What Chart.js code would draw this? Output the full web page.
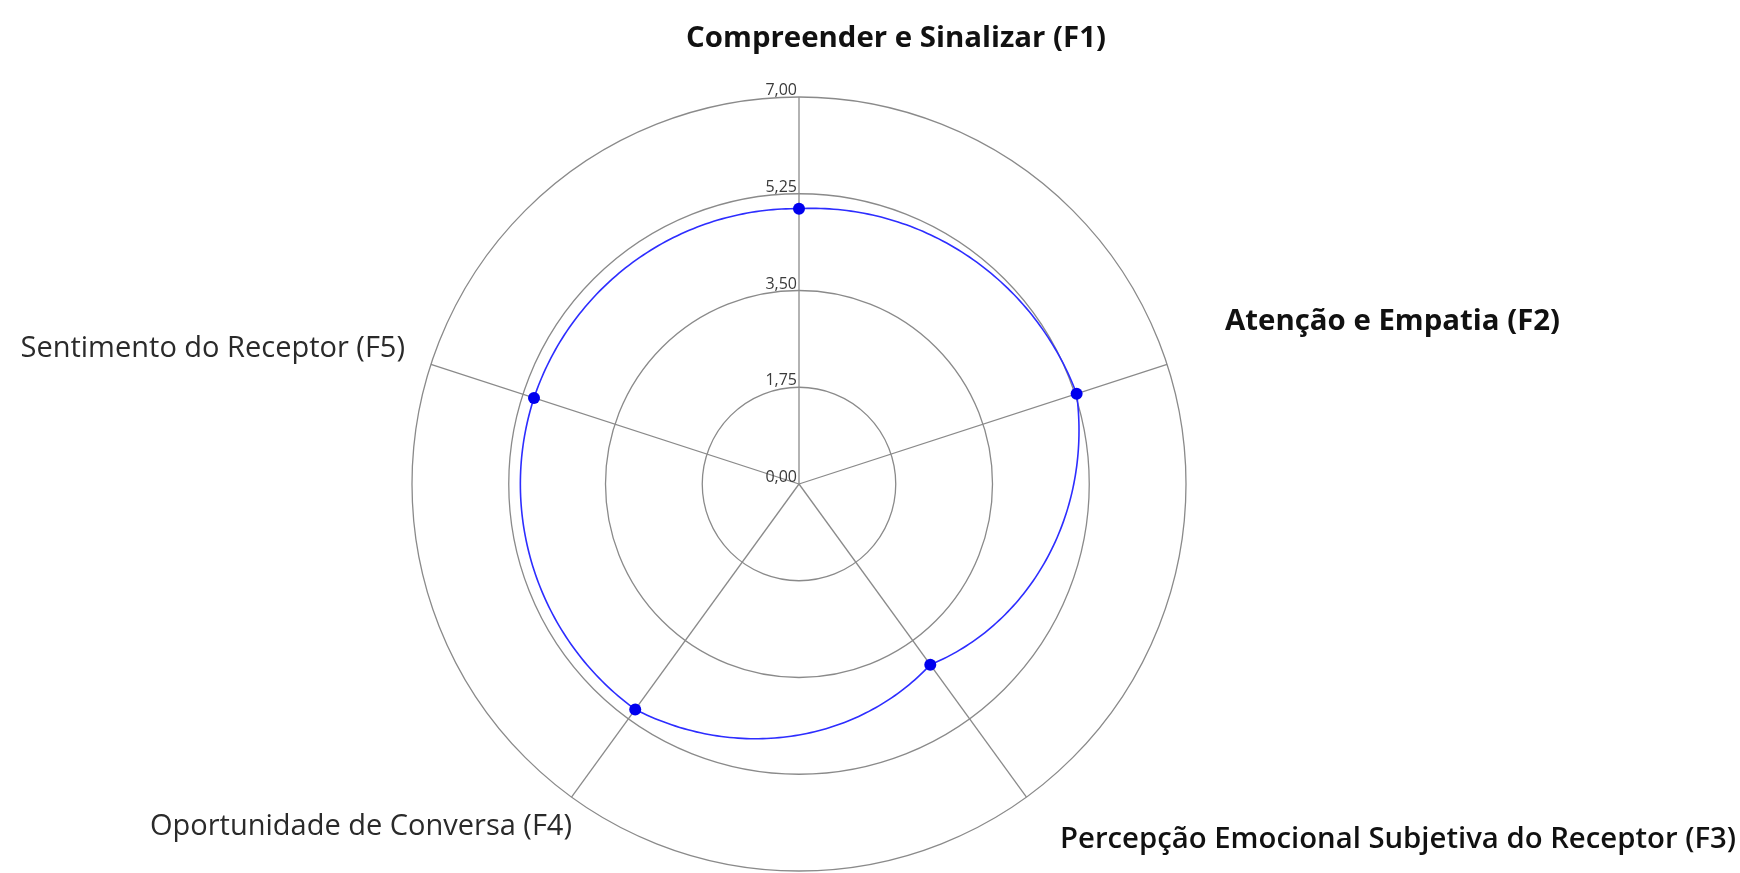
<!DOCTYPE html>
<html>
<head>
<meta charset="utf-8">
<script src="https://cdn.jsdelivr.net/npm/chart.js@4.4.1/dist/chart.umd.min.js"></script>
<style>
  html, body { margin: 0; padding: 0; background: #ffffff; }
  #c { display: block; }
</style>
</head>
<body>
<canvas id="c" width="1740" height="873"></canvas>
<script>
// ---- data ----
const categories = [
  'Compreender e Sinalizar (F1)',
  'Atenção e Empatia (F2)',
  'Percepção Emocional Subjetiva do Receptor (F3)',
  'Oportunidade de Conversa (F4)',
  'Sentimento do Receptor (F5)'
];
const seriesValues = [4.98, 5.28, 4.04, 5.04, 5.04];
const tickLabels = ['0,00', '1,75', '3,50', '5,25', '7,00'];
const scaleMin = 0;
const scaleMax = 7;
const scaleStep = 1.75;

// ---- label styling (offsets relative to scale centre) ----
const labelStyle = [
  { dx: 97,   dy: -437, align: 'center', weight: '700', size: 29.4, color: '#111111' },
  { dx: 426,  dy: -154, align: 'left',   weight: '700', size: 29.4, color: '#111111' },
  { dx: 261,  dy: 364,  align: 'left',   weight: '600', size: 29.3, color: '#111111' },
  { dx: -227, dy: 351,  align: 'right',  weight: '400', size: 29,   color: '#2a2a2a' },
  { dx: -394, dy: -127, align: 'right',  weight: '400', size: 29,   color: '#2a2a2a' }
];

// series line drawn in polar coordinates (radius interpolated along the angle), via the radial scale
const polarLinePlugin = {
  id: 'polarLine',
  beforeDatasetsDraw(chart) {
    const s = chart.scales.r;
    const ctx = chart.ctx;
    const vals = chart.data.datasets[0].data;
    const n = vals.length;
    const steps = 80;
    ctx.save();
    ctx.beginPath();
    for (let i = 0; i < n; i++) {
      const v0 = vals[i], v1 = vals[(i + 1) % n];
      for (let k = 0; k <= steps; k++) {
        const t = k / steps;
        const d = s.getDistanceFromCenterForValue(v0 + (v1 - v0) * t);
        const p = s.getPointPosition(i + t, d);
        if (i === 0 && k === 0) ctx.moveTo(p.x, p.y); else ctx.lineTo(p.x, p.y);
      }
    }
    ctx.closePath();
    ctx.strokeStyle = 'rgb(45,45,255)';
    ctx.lineWidth = 1.6;
    ctx.lineJoin = 'round';
    ctx.stroke();
    ctx.restore();
  }
};

const labelPlugin = {
  id: 'labelPlugin',
  afterDraw(chart) {
    const s = chart.scales.r;
    const ctx = chart.ctx;
    ctx.save();
    categories.forEach((txt, i) => {
      const st = labelStyle[i];
      ctx.font = st.weight + ' ' + st.size + 'px "Open Sans"';
      ctx.fillStyle = st.color;
      ctx.textAlign = st.align;
      ctx.textBaseline = 'alphabetic';
      ctx.fillText(txt, s.xCenter + st.dx, s.yCenter + st.dy);
    });
    ctx.font = '16px "Open Sans"';
    ctx.fillStyle = '#3a3a3a';
    ctx.textAlign = 'right';
    ctx.textBaseline = 'alphabetic';
    s.ticks.forEach((t, i) => {
      const r = s.getDistanceFromCenterForValue(t.value);
      ctx.fillText(tickLabels[i], s.xCenter - 2, s.yCenter - r - 2);
    });
    ctx.restore();
  }
};

new Chart(document.getElementById('c'), {
  type: 'radar',
  data: {
    labels: categories,
    datasets: [{
      data: seriesValues,
      showLine: false,
      borderWidth: 0,
      backgroundColor: 'rgba(0,0,0,0)',
      fill: false,
      pointRadius: 6,
      pointHoverRadius: 6,
      pointBackgroundColor: '#0000ee',
      pointBorderWidth: 0
    }]
  },
  options: {
    responsive: false,
    animation: false,
    devicePixelRatio: 1,
    layout: { padding: { left: 412, top: 97, right: 554, bottom: 2 } },
    plugins: { legend: { display: false }, tooltip: { enabled: false } },
    scales: {
      r: {
        min: scaleMin,
        max: scaleMax,
        startAngle: 0,
        ticks: {
          stepSize: scaleStep,
          display: false,
          callback: (v, i) => tickLabels[i]
        },
        grid: { circular: true, color: '#8a8a8a', lineWidth: 1.3 },
        angleLines: { display: true, color: '#8a8a8a', lineWidth: 1.3 },
        pointLabels: { display: false }
      }
    }
  },
  plugins: [polarLinePlugin, labelPlugin]
});
</script>
</body>
</html>
